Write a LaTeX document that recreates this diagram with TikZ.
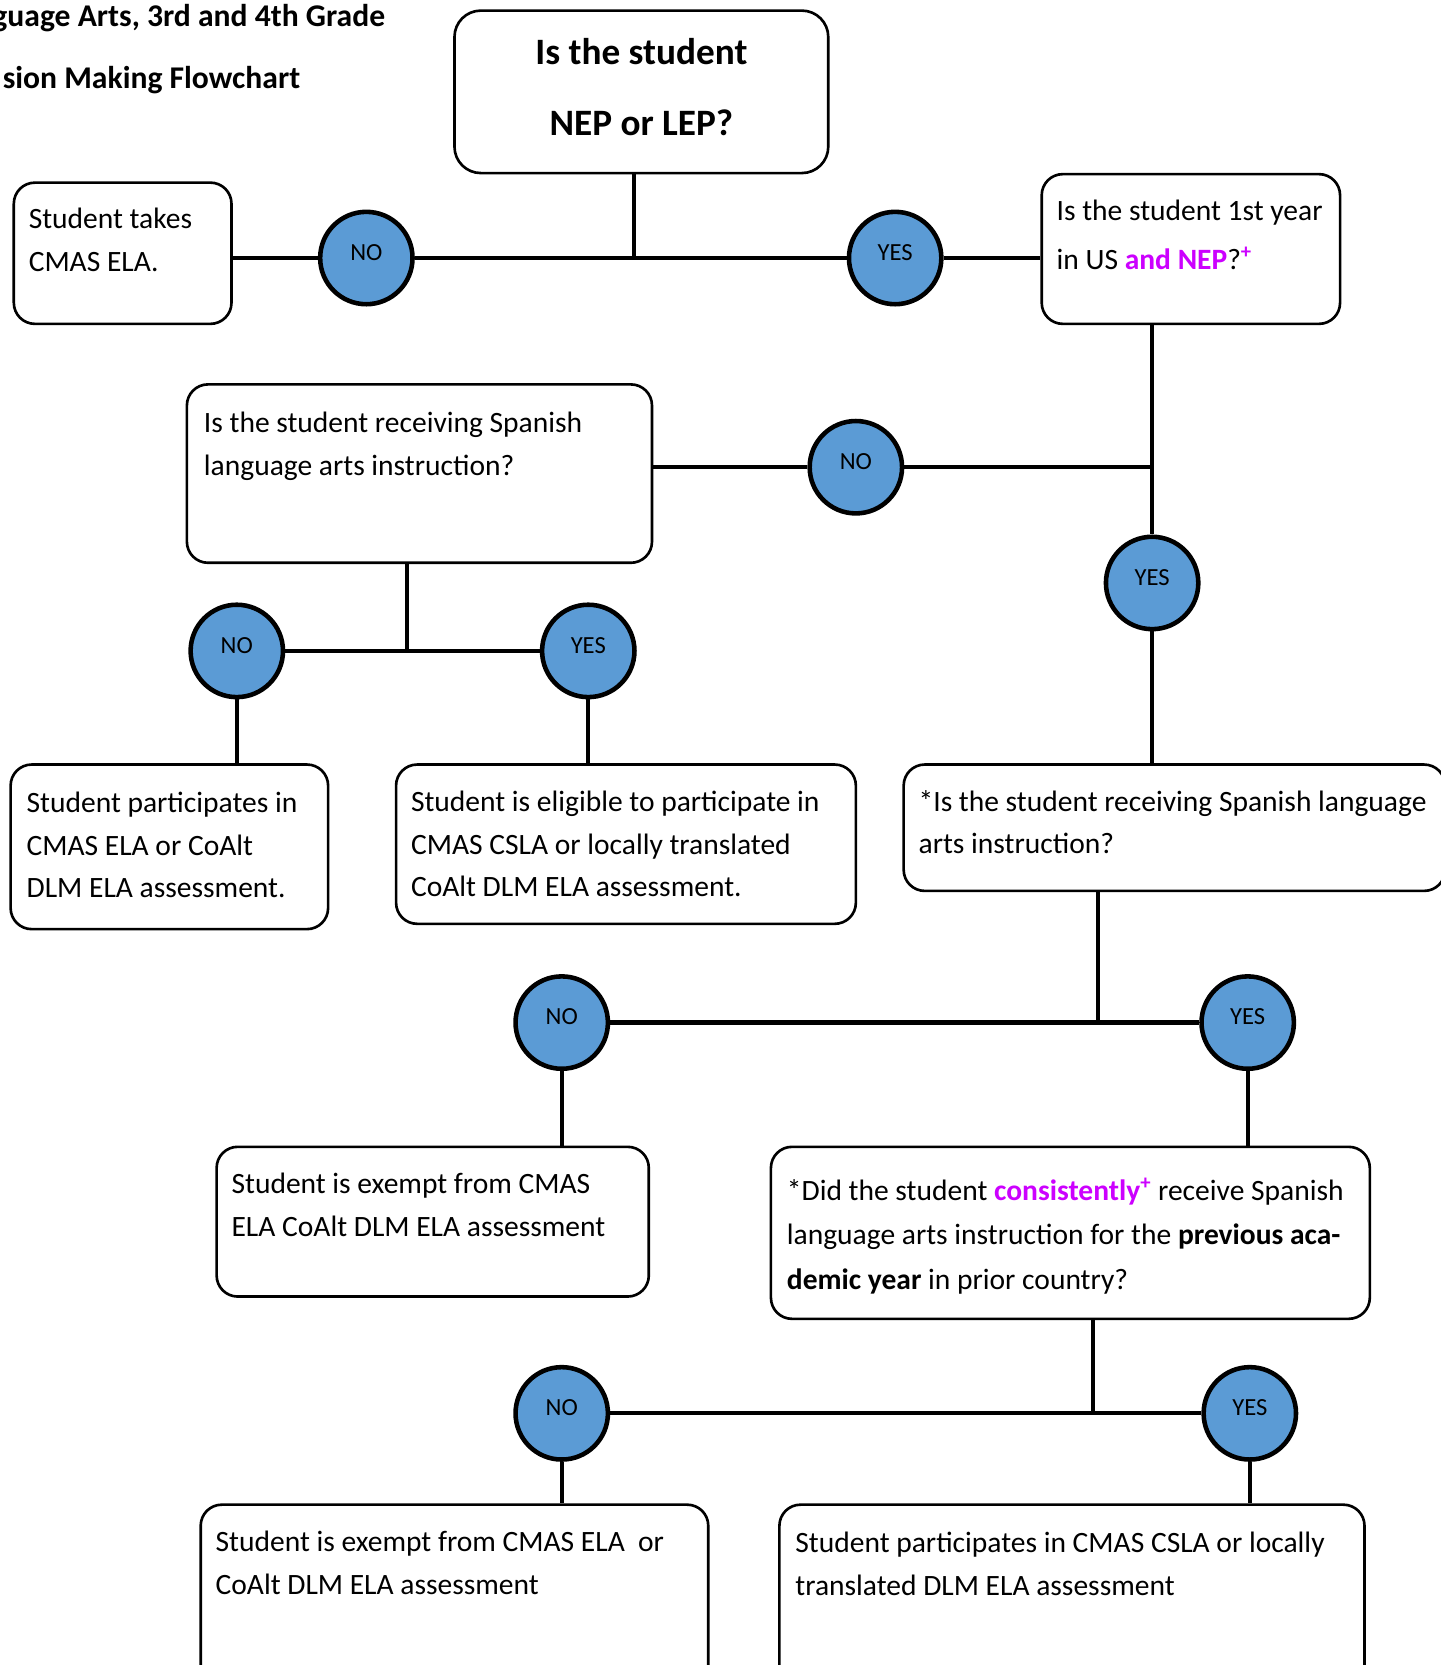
\documentclass[tikz,border=0pt]{standalone}
\usepackage{fontspec}
\setmainfont{Carlito}
\usetikzlibrary{positioning}
\definecolor{nodeblue}{RGB}{91,155,213}
\definecolor{hilite}{RGB}{204,0,255}
\tikzset{
  box/.style 2 args={draw, line width=1.5pt, rounded corners=12pt, inner sep=0pt,
    minimum width=#1*0.02124cm, minimum height=#2*0.02124cm},
  boxtext/.style={anchor=north west, inner sep=0pt, align=left,
    font=\fontsize{16.8}{24.2}\selectfont},
  answer/.style={circle, draw, line width=2.6pt, fill=nodeblue, inner sep=0pt,
    minimum size=87*0.02124cm, text height=8pt, text depth=5.5pt,
    font=\fontsize{14}{15}\selectfont},
  link/.style={line width=2.4pt}
}
\begin{document}
\begin{tikzpicture}[x=0.02124cm, y=-0.02124cm]
\useasboundingbox (0,0) rectangle (1357,1568);

% heading, cut at the left
\node[anchor=base east, inner sep=0pt, font=\bfseries\fontsize{18}{20}\selectfont] (head1) at (363,25) {guage Arts, 3rd and 4th Grade};
\node[anchor=base east, inner sep=0pt, font=\bfseries\fontsize{18}{20}\selectfont] (head2) at (283,83) {sion Making Flowchart};

% boxes
\node[box={352}{153}, rounded corners=15pt] (q0) at (604,86.5) {};
\node[box={205}{133}] (a1) at (115.5,238.5) {};
\node[box={281}{141}] (q1) at (1121.5,234.5) {};
\node[box={438}{168}] (q2) at (395,446) {};
\node[box={510}{119}] (q3) at (1106,779.5) {};
\node[box={299}{155}] (a2) at (159.5,797.5) {};
\node[box={433}{150}] (a3) at (589.5,795) {};
\node[box={407}{141}] (a4) at (407.5,1150.5) {};
\node[box={564}{162}] (q4) at (1008,1161) {};
\node[box={478}{183}] (a5) at (428,1508.5) {};
\node[box={551}{183}] (a6) at (1009.5,1508.5) {};

% texts of the boxes
\node[align=center, inner sep=0pt, font=\bfseries\fontsize{21.2}{40.5}\selectfont] (tq0) at (604,82) {Is the student\\NEP or LEP?};
\node[boxtext] (ta1) at ([shift={(15,25)}]a1.north west) {Student takes\\CMAS ELA.};
\node[boxtext] (tq1) at ([shift={(15,25)}]q1.north west) {Is the student 1st year\\[3.6pt]in US \textcolor{hilite}{\textbf{and NEP}}?\textsuperscript{\textcolor{hilite}{\textbf{+}}}};
\node[boxtext] (tq2) at ([shift={(17,27)}]q2.north west) {Is the student receiving Spanish\\language arts instruction?};
\node[boxtext] (tq3) at ([shift={(15,25)}]q3.north west) {*Is the student receiving Spanish language\\arts instruction?};
\node[boxtext] (ta2) at ([shift={(16,27)}]a2.north west) {Student participates in\\CMAS ELA or CoAlt\\DLM ELA assessment.};
\node[boxtext] (ta3) at ([shift={(15,26)}]a3.north west) {Student is eligible to participate in\\CMAS CSLA or locally translated\\CoAlt DLM ELA assessment.};
\node[boxtext] (ta4) at ([shift={(15,26)}]a4.north west) {Student is exempt from CMAS\\ELA CoAlt DLM ELA assessment};
\node[boxtext, font=\fontsize{16.8}{25.4}\selectfont] (tq4) at ([shift={(16,30)}]q4.north west) {*Did the student \textcolor{hilite}{\textbf{consistently}}\textsuperscript{\textcolor{hilite}{\textbf{+}}} receive Spanish\\language arts instruction for the \textbf{previous aca-}\\\textbf{demic year} in prior country?};
\node[boxtext] (ta5) at ([shift={(15,26)}]a5.north west) {Student is exempt from CMAS ELA~~or\\CoAlt DLM ELA assessment};
\node[boxtext] (ta6) at ([shift={(16,27)}]a6.north west) {Student participates in CMAS CSLA or locally\\translated DLM ELA assessment};

% yes / no circles
\node[answer] (n1) at (345,243) {NO};
\node[answer] (y1) at (843,243) {YES};
\node[answer] (n2) at (806,440) {NO};
\node[answer] (y2) at (1085,549) {YES};
\node[answer] (n3) at (223,613) {NO};
\node[answer] (y3) at (554,613) {YES};
\node[answer] (n4) at (529,963) {NO};
\node[answer] (y4) at (1175,963) {YES};
\node[answer] (n5) at (529,1331) {NO};
\node[answer] (y5) at (1177,1331) {YES};

% branch points
\coordinate (k0) at (597,243);
\coordinate (k1) at (1085,440);
\coordinate (k2) at (383,613);
\coordinate (k3) at (1034,963);
\coordinate (k4) at (1029,1331);

\draw[link] (k0 |- q0.south) -- (k0);
\draw[link] (a1.east |- n1) -- (n1.west);
\draw[link] (n1.east) -- (y1.west);
\draw[link] (y1.east) -- (y1 -| q1.west);
\draw[link] (k1 |- q1.south) -- (y2.north);
\draw[link] (q2.east |- n2) -- (n2.west);
\draw[link] (n2.east) -- (k1);
\draw[link] (y2.south) -- (y2 |- q3.north);
\draw[link] (k2 |- q2.south) -- (k2);
\draw[link] (n3.east) -- (y3.west);
\draw[link] (n3.south) -- (n3 |- a2.north);
\draw[link] (y3.south) -- (y3 |- a3.north);
\draw[link] (k3 |- q3.south) -- (k3);
\draw[link] (n4.east) -- (y4.west);
\draw[link] (n4.south) -- (n4 |- a4.north);
\draw[link] (y4.south) -- (y4 |- q4.north);
\draw[link] (k4 |- q4.south) -- (k4);
\draw[link] (n5.east) -- (y5.west);
\draw[link] (n5.south) -- (n5 |- a5.north);
\draw[link] (y5.south) -- (y5 |- a6.north);
\end{tikzpicture}
\end{document}
